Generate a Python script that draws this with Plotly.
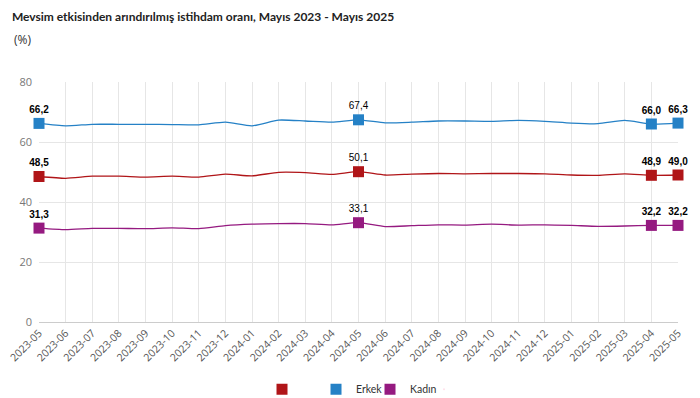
import plotly.graph_objects as go

months = ["2023-05","2023-06","2023-07","2023-08","2023-09","2023-10","2023-11","2023-12",
          "2024-01","2024-02","2024-03","2024-04","2024-05","2024-06","2024-07","2024-08",
          "2024-09","2024-10","2024-11","2024-12","2025-01","2025-02","2025-03","2025-04","2025-05"]
toplam = [48.5,47.9,48.6,48.6,48.3,48.6,48.3,49.3,48.7,49.9,49.8,49.2,50.1,49.0,49.3,49.5,
          49.4,49.5,49.5,49.4,49.0,48.9,49.4,48.9,49.0]
erkek = [66.2,65.4,65.9,65.9,65.9,65.8,65.7,66.6,65.4,67.3,67.0,66.6,67.4,66.4,66.6,67.0,
         67.0,66.9,67.2,66.9,66.3,66.1,67.2,66.0,66.3]
kadin = [31.3,30.8,31.2,31.2,31.1,31.4,31.1,32.1,32.6,32.8,32.8,32.4,33.1,31.8,32.1,32.4,
         32.3,32.6,32.3,32.4,32.2,31.9,32.0,32.2,32.2]
highlight = [0, 12, 23, 24]
label_weights = [700, 400, 700, 700]
series = [("", toplam, "#b01518"), ("Erkek", erkek, "#2581c6"), ("Kadın", kadin, "#951a80")]

fig = go.Figure()
for name, vals, col in series:
    fig.add_trace(go.Scatter(x=months, y=vals, mode="lines", line=dict(color=col, width=1.3, shape="spline", smoothing=0.6),
                             showlegend=False, hoverinfo="skip"))
for name, vals, col in series:
    hx = [months[i] for i in highlight]
    hy = [vals[i] for i in highlight]
    fig.add_trace(go.Scatter(x=hx, y=hy, mode="markers+text", name=name,
                             marker=dict(symbol="square", size=11, color=col),
                             text=[f"{v:.1f}".replace(".", ",") for v in hy],
                             textposition="top center",
                             textfont=dict(family="Liberation Sans, Arial", size=10, color="#000000",
                                           weight=label_weights),
                             cliponaxis=False))
# spacer entry so the last legend label is not clipped
fig.add_trace(go.Scatter(x=[None], y=[None], mode="markers", name=" ",
                         marker=dict(size=1, opacity=0), hoverinfo="skip"))

fig.update_layout(
    width=700, height=398,
    margin=dict(l=39, r=22, t=82, b=76, autoexpand=False),
    paper_bgcolor="white", plot_bgcolor="white",
    font=dict(family="Open Sans", size=11, color="#444"),
    title=dict(text="Mevsim etkisinden arındırılmış istihdam oranı, Mayıs 2023 - Mayıs 2025",
               x=0.017, xanchor="left", y=0.957, yanchor="middle",
               font=dict(family="Lato", size=12, color="#222", weight=700)),
    annotations=[dict(text="(%)", xref="paper", yref="paper", x=-0.043, y=1.175, xanchor="left",
                      yanchor="middle", showarrow=False, font=dict(family="Open Sans", size=12, color="#333"))],
    xaxis=dict(type="category", range=[0, 24], tickangle=-45, showgrid=True, gridcolor="#e6e6e6",
               showline=True, linecolor="#cccccc", ticks="", automargin=False,
               tickfont=dict(size=10.5, color="#555")),
    yaxis=dict(range=[0, 80], dtick=20, showgrid=True, gridcolor="#e6e6e6", zeroline=False,
               ticks="", automargin=False, tickfont=dict(size=11, color="#777"), ticklabelstandoff=6),
    legend=dict(orientation="h", x=0.349, xanchor="left", y=-0.28, yanchor="middle",
                font=dict(family="Lato", size=10.5, color="#333"), itemwidth=30,
                entrywidth=9, entrywidthmode="pixels"),
)
fig.write_html("out.html", post_script="document.body.style.margin='0';",
               config={"displayModeBar": False})
